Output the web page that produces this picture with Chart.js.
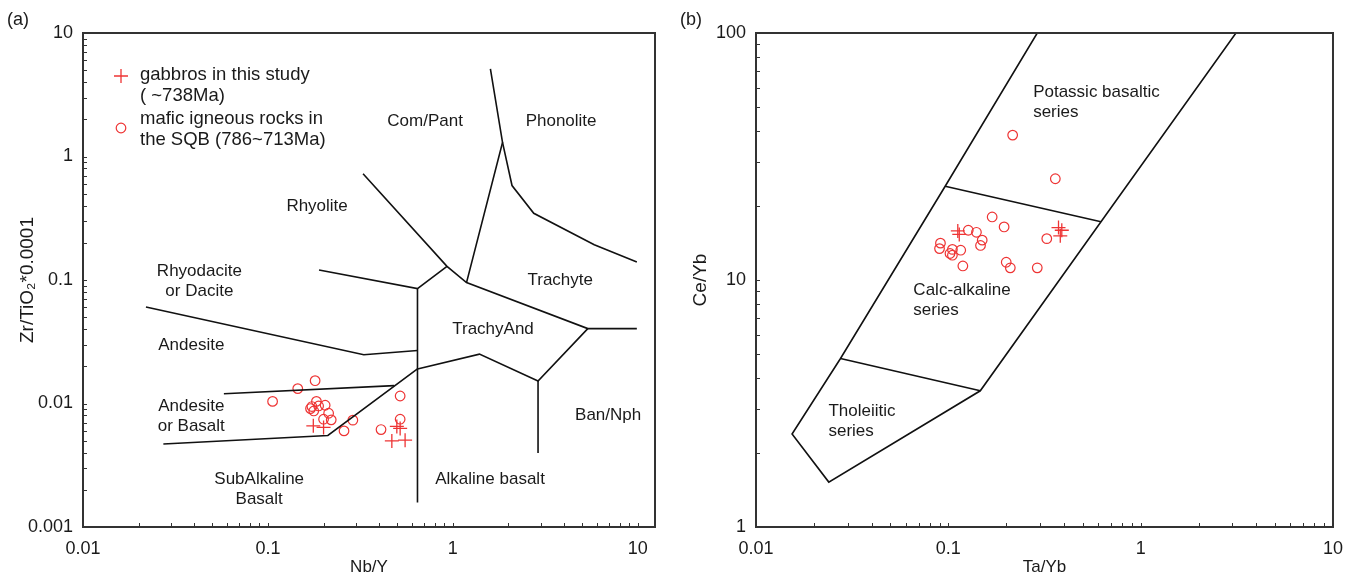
<!DOCTYPE html>
<html>
<head>
<meta charset="utf-8">
<script src="https://cdn.jsdelivr.net/npm/chart.js@4"></script>
<style>
  html, body { margin: 0; padding: 0; background: #fff; }
  #wrap { position: relative; width: 1354px; height: 581px; }
  .panel { position: absolute; top: 0; height: 581px; }
  #panelA { left: 0; width: 680px; }
  #panelB { left: 680px; width: 674px; }
</style>
</head>
<body>
<div id="wrap">
  <div class="panel" id="panelA"><canvas id="chartA"></canvas></div>
  <div class="panel" id="panelB"><canvas id="chartB"></canvas></div>
</div>
<script>
// (a) Nb/Y vs Zr/TiO2*0.0001
const gabbroNbY  = [0.176, 0.200, 0.498, 0.519, 0.468, 0.552];
const gabbroZrTi = [0.00659, 0.0064, 0.00652, 0.00628, 0.00498, 0.00505];
const maficNbY  = [0.106, 0.145, 0.180, 0.183, 0.173, 0.204, 0.177, 0.170, 0.188, 0.213, 0.200, 0.220, 0.288, 0.258, 0.409, 0.519, 0.519];
const maficZrTi = [0.0104, 0.0132, 0.0153, 0.0104, 0.00945, 0.00968, 0.0087, 0.0091, 0.00955, 0.00834, 0.00746, 0.00737, 0.00733, 0.0060, 0.00615, 0.0115, 0.00746];

// (b) Ta/Yb vs Ce/Yb
const gabbroTaYb = [0.112, 0.114, 0.374, 0.389, 0.382];
const gabbroCeYb = [15.8, 15.3, 16.3, 15.9, 15.1];
const maficTaYb = [0.216, 0.360, 0.169, 0.195, 0.127, 0.140, 0.150, 0.147, 0.091, 0.090, 0.105, 0.116, 0.102, 0.105, 0.119, 0.200, 0.210, 0.290, 0.325];
const maficCeYb = [38.6, 25.7, 18.0, 16.4, 15.9, 15.6, 14.5, 13.8, 14.1, 13.4, 13.3, 13.2, 12.8, 12.6, 11.4, 11.8, 11.2, 11.2, 14.7];

// field boundaries (Winchester & Floyd), [x, y] vertices
const boundariesA = [
  [[0.0219, 0.0604], [0.330, 0.0248], [0.644, 0.0269]],
  [[0.189, 0.1205], [0.644, 0.0853], [0.930, 0.129]],
  [[0.644, 0.0853], [0.644, 0.00158]],
  [[0.327, 0.726], [0.930, 0.129], [1.186, 0.0953], [5.37, 0.0404], [9.89, 0.0404]],
  [[1.186, 0.0953], [1.857, 1.30], [1.597, 5.12]],
  [[1.857, 1.30], [2.09, 0.582], [2.74, 0.347], [5.82, 0.193], [9.89, 0.140]],
  [[0.644, 0.01905], [1.393, 0.0251], [2.89, 0.0152], [5.37, 0.0404]],
  [[2.89, 0.0152], [2.89, 0.00398]],
  [[0.0272, 0.0047], [0.211, 0.00551], [0.644, 0.01905]],
  [[0.0578, 0.0120], [0.482, 0.01396]]
];
const boundariesB = [
  [[0.290, 100], [0.0963, 23.96], [0.0275, 4.81], [0.0154, 2.38], [0.0239, 1.52], [0.1466, 3.56], [0.622, 17.2], [3.13, 100]],
  [[0.0963, 23.96], [0.622, 17.2]],
  [[0.0275, 4.81], [0.1466, 3.56]]
];

// field names: text lines, anchor in data units
const fieldsA = [
  { lines: ['Com/Pant'], x: 0.708, y: 1.94 },
  { lines: ['Phonolite'], x: 3.85, y: 1.94 },
  { lines: ['Rhyolite'], x: 0.1845, y: 0.393 },
  { lines: ['Rhyodacite', 'or Dacite'], x: 0.0426, y: 0.0973 },
  { lines: ['Trachyte'], x: 3.81, y: 0.0991 },
  { lines: ['TrachyAnd'], x: 1.65, y: 0.0398 },
  { lines: ['Andesite'], x: 0.0385, y: 0.0296 },
  { lines: ['Andesite', 'or Basalt'], x: 0.0385, y: 0.00788 },
  { lines: ['Ban/Nph'], x: 6.92, y: 0.00804 },
  { lines: ['SubAlkaline', 'Basalt'], x: 0.0897, y: 0.00203 },
  { lines: ['Alkaline basalt'], x: 1.59, y: 0.00244 }
];
const fieldsB = [
  { lines: ['Potassic basaltic', 'series'], x: 0.276, y: 52.3, align: 'left' },
  { lines: ['Calc-alkaline', 'series'], x: 0.0658, y: 8.28, align: 'left' },
  { lines: ['Tholeiitic', 'series'], x: 0.0238, y: 2.69, align: 'left' }
];

const FONT = '"Liberation Sans", Arial, sans-serif';
const RED = 'rgb(238, 52, 52)';
Chart.defaults.font.family = FONT;
Chart.defaults.color = '#1a1a1a';

function toPoints(xs, ys) {
  return xs.map((x, i) => ({ x: x, y: ys[i] }));
}

function isPow10(v) {
  const l = Math.log10(v);
  return Math.abs(l - Math.round(l)) < 1e-6;
}

function powLabel(v) {
  const p = Math.round(Math.log10(v));
  return p < 0 ? Math.pow(10, p).toFixed(-p) : String(Math.pow(10, p));
}

function isNiceTick(v) {
  const m = v / Math.pow(10, Math.floor(Math.log10(v) + 1e-9));
  return Math.abs(m - Math.round(m)) < 1e-6;
}

function lineSets(list) {
  return list.map(seg => ({
    type: 'scatter',
    data: seg.map(p => ({ x: p[0], y: p[1] })),
    showLine: true,
    borderColor: '#111',
    borderWidth: 1.6,
    pointRadius: 0,
    fill: false
  }));
}

function sampleSets(gx, gy, mx, my) {
  return [
    {
      label: 'gabbros',
      data: toPoints(gx, gy),
      pointStyle: 'cross',
      pointRadius: 7,
      borderColor: RED,
      borderWidth: 1.3,
      backgroundColor: 'transparent'
    },
    {
      label: 'mafic',
      data: toPoints(mx, my),
      pointStyle: 'circle',
      pointRadius: 4.8,
      borderColor: RED,
      borderWidth: 1.2,
      backgroundColor: 'transparent'
    }
  ];
}

function logAxis(min, max, title, fitSize, horizontal, titlePad) {
  return {
    type: 'logarithmic',
    min: min,
    max: max,
    grid: { display: false, drawTicks: false },
    border: { display: false },
    ticks: {
      autoSkip: false,
      maxRotation: 0,
      padding: horizontal ? 11 : 10,
      color: '#1a1a1a',
      font: { size: 18 },
      callback: v => isPow10(v) ? powLabel(v) : ''
    },
    title: {
      display: true,
      text: title,
      color: '#1a1a1a',
      font: { size: horizontal ? 17 : 19 },
      padding: titlePad
    },
    afterFit: s => {
      if (horizontal) s.height = fitSize; else s.width = fitSize;
    }
  };
}

// frame with inward tick marks
const frame = {
  id: 'frame',
  afterDatasetsDraw(chart) {
    const { ctx, chartArea: a, scales } = chart;
    ctx.save();
    ctx.strokeStyle = '#333';
    ctx.lineWidth = 1;
    ctx.beginPath();
    scales.x.ticks.forEach(t => {
      if (!isNiceTick(t.value)) return;
      const px = Math.round(scales.x.getPixelForValue(t.value)) + 0.5;
      ctx.moveTo(px, a.bottom);
      ctx.lineTo(px, a.bottom - 4);
    });
    scales.y.ticks.forEach(t => {
      if (!isNiceTick(t.value)) return;
      const py = Math.round(scales.y.getPixelForValue(t.value)) + 0.5;
      ctx.moveTo(a.left, py);
      ctx.lineTo(a.left + 4, py);
    });
    ctx.stroke();
    ctx.lineWidth = 2;
    ctx.strokeRect(a.left, a.top, a.right - a.left, a.bottom - a.top);
    ctx.restore();
  }
};

function fieldText(items, panel) {
  return {
    id: 'fieldText',
    afterDatasetsDraw(chart) {
      const { ctx, scales: { x, y } } = chart;
      ctx.save();
      ctx.fillStyle = '#1a1a1a';
      ctx.textBaseline = 'middle';
      ctx.font = '17px ' + FONT;
      items.forEach(it => {
        const px = x.getPixelForValue(it.x);
        const py = y.getPixelForValue(it.y);
        ctx.textAlign = it.align || 'center';
        const n = it.lines.length;
        it.lines.forEach((s, i) => ctx.fillText(s, px, py + (i - (n - 1) / 2) * 20));
      });
      ctx.font = '18px ' + FONT;
      ctx.textAlign = 'left';
      ctx.fillText(panel.text, panel.x, 20);
      ctx.restore();
    }
  };
}

const legendBox = {
  id: 'legendBox',
  afterDraw(chart) {
    const { ctx, chartArea: a } = chart;
    const x0 = a.left + 38, y0 = a.top + 43;
    ctx.save();
    ctx.strokeStyle = RED;
    ctx.lineWidth = 1.3;
    ctx.beginPath();
    ctx.moveTo(x0 - 7, y0); ctx.lineTo(x0 + 7, y0);
    ctx.moveTo(x0, y0 - 7); ctx.lineTo(x0, y0 + 7);
    ctx.stroke();
    ctx.lineWidth = 1.2;
    ctx.beginPath();
    ctx.arc(x0, y0 + 52, 4.8, 0, Math.PI * 2);
    ctx.stroke();
    ctx.fillStyle = '#1a1a1a';
    ctx.font = '18.5px ' + FONT;
    ctx.textBaseline = 'middle';
    ctx.textAlign = 'left';
    const lines = ['gabbros in this study', '( ~738Ma)', 'mafic igneous rocks in', 'the SQB (786~713Ma)'];
    const ys = [y0 - 1, y0 + 20, y0 + 43, y0 + 64];
    lines.forEach((s, i) => ctx.fillText(s, x0 + 19, ys[i]));
    ctx.restore();
  }
};

new Chart(document.getElementById('chartA'), {
  type: 'scatter',
  data: {
    datasets: lineSets(boundariesA).concat(sampleSets(gabbroNbY, gabbroZrTi, maficNbY, maficZrTi))
  },
  options: {
    responsive: true,
    maintainAspectRatio: false,
    animation: false,
    layout: { padding: { top: 33, right: 25, left: 0, bottom: 0 } },
    plugins: { legend: { display: false }, tooltip: { enabled: false } },
    scales: {
      x: logAxis(0.01, 12.4, 'Nb/Y', 54, true, { top: 4, bottom: 3 }),
      y: logAxis(0.001, 10, 'Zr/TiO\u2082*0.0001', 83, false, { top: 16, bottom: 0 })
    }
  },
  plugins: [frame, fieldText(fieldsA, { text: '(a)', x: 7 }), legendBox]
});

new Chart(document.getElementById('chartB'), {
  type: 'scatter',
  data: {
    datasets: lineSets(boundariesB).concat(sampleSets(gabbroTaYb, gabbroCeYb, maficTaYb, maficCeYb))
  },
  options: {
    responsive: true,
    maintainAspectRatio: false,
    animation: false,
    layout: { padding: { top: 33, right: 21, left: 0, bottom: 0 } },
    plugins: { legend: { display: false }, tooltip: { enabled: false } },
    scales: {
      x: logAxis(0.01, 10, 'Ta/Yb', 54, true, { top: 4, bottom: 3 }),
      y: logAxis(1, 100, 'Ce/Yb', 76, false, { top: 9, bottom: 0 })
    }
  },
  plugins: [frame, fieldText(fieldsB, { text: '(b)', x: 0 })]
});
</script>
</body>
</html>
